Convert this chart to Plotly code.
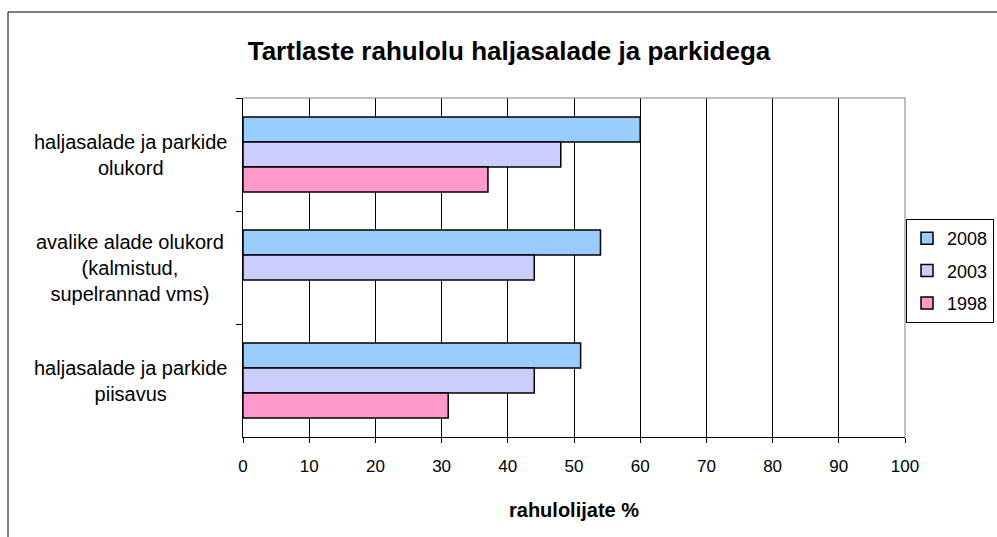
import plotly.graph_objects as go

# Survey categories (top to bottom) and satisfaction shares per year
categories = [
    "haljasalade ja parkide olukord",
    "avalike alade olukord (kalmistud, supelrannad vms)",
    "haljasalade ja parkide piisavus",
]
category_labels = [
    "haljasalade ja parkide<br>olukord",
    "avalike alade olukord<br>(kalmistud,<br>supelrannad vms)",
    "haljasalade ja parkide<br>piisavus",
]
years = ["2008", "2003", "1998"]
values_2008 = [60, 54, 51]
values_2003 = [48, 44, 44]
values_1998 = [37, None, 31]
colors = {"2008": "#99CCFF", "2003": "#CCCCFF", "1998": "#FF99CC"}
x_ticks = list(range(0, 101, 10))

series = {"2008": values_2008, "2003": values_2003, "1998": values_1998}

FONT = "Liberation Sans, Arial, sans-serif"

fig = go.Figure()
for yr in years:
    fig.add_trace(go.Bar(
        y=categories,
        x=series[yr],
        name=yr,
        legendgroup=yr,
        orientation="h",
        marker=dict(color=colors[yr], line=dict(color="#000000", width=1.5)),
    ))

W, H = 997, 537
L, R, T, B = 243, 905, 98, 437

annotations = []
for cat, lab in zip(categories, category_labels):
    annotations.append(dict(
        x=(130 - L) / (R - L), xref="paper", y=cat, yref="y",
        text=lab, showarrow=False, align="center",
        xanchor="center", yanchor="middle",
        font=dict(family=FONT, size=20, color="#000000"),
    ))

shapes = [
    # gray frame on top and right of the plot area
    dict(type="line", xref="paper", yref="paper", x0=0, x1=1, y0=1, y1=1,
         line=dict(color="#808080", width=1), layer="above"),
    dict(type="line", xref="paper", yref="paper", x0=1, x1=1, y0=0, y1=1,
         line=dict(color="#808080", width=1), layer="above"),
    # outer chart frame
    dict(type="rect", xref="paper", yref="paper",
         x0=(8 - L) / (R - L), x1=(1005 - L) / (R - L),
         y0=(B - 545) / (B - T), y1=(B - 12) / (B - T),
         line=dict(color="#000000", width=1), layer="below"),
]

fig.update_layout(
    width=W, height=H,
    margin=dict(l=L, r=W - R, t=T, b=H - B, pad=0, autoexpand=False),
    paper_bgcolor="#FFFFFF", plot_bgcolor="#FFFFFF",
    barmode="group", bargap=0.336, bargroupgap=0,
    title=dict(
        text="<b>Tartlaste rahulolu haljasalade ja parkidega</b>",
        x=509 / W, xanchor="center", y=1 - 51 / H, yanchor="middle",
        font=dict(family=FONT, size=26, color="#000000"),
    ),
    xaxis=dict(
        range=[0, 100], tickvals=x_ticks, ticks="outside", ticklen=5,
        tickcolor="#000000", showline=True, linecolor="#000000", linewidth=1,
        showgrid=True, gridcolor="#000000", gridwidth=1, zeroline=False,
        ticklabelstandoff=9,
        tickfont=dict(family=FONT, size=17, color="#000000"),
        title=dict(text="<b>rahulolijate %</b>", standoff=27,
                   font=dict(family=FONT, size=20, color="#000000")),
    ),
    yaxis=dict(
        type="category", categoryorder="array", categoryarray=categories,
        autorange="reversed", showticklabels=False,
        ticks="outside", tickson="boundaries", ticklen=6, tickcolor="#000000",
        showline=True, linecolor="#000000", linewidth=1, showgrid=False,
    ),
    legend=dict(
        x=(906 - L) / (R - L), xanchor="left",
        y=(B - 219) / (B - T), yanchor="top",
        bordercolor="#000000", borderwidth=1, bgcolor="#FFFFFF",
        font=dict(family=FONT, size=18, color="#000000"),
        itemwidth=30, traceorder="grouped", tracegroupgap=6,
    ),
    annotations=annotations,
    shapes=shapes,
    showlegend=True,
)

fig.write_html("out.html")
